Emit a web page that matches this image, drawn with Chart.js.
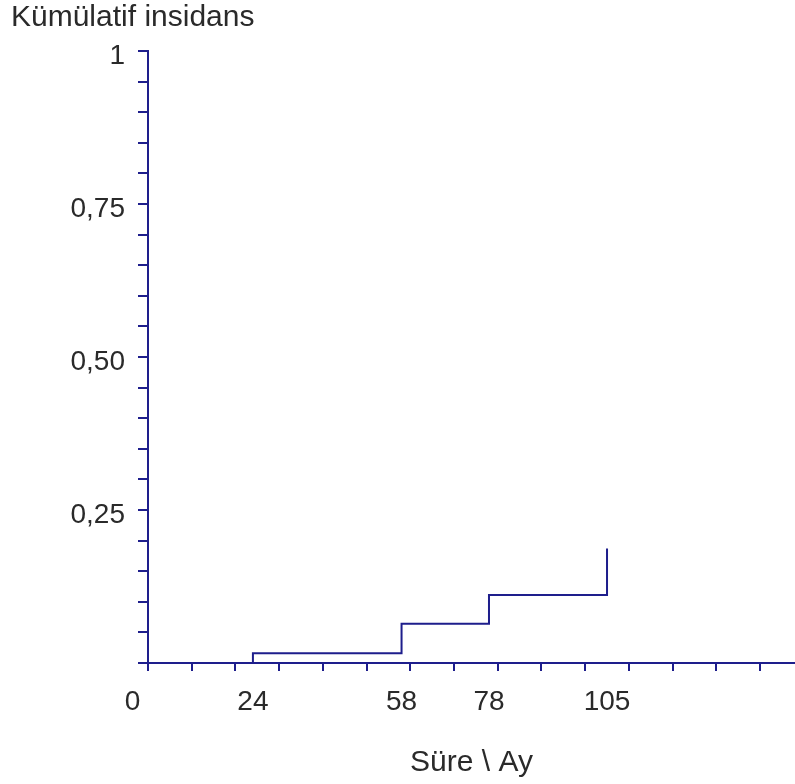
<!DOCTYPE html>
<html lang="tr">
<head>
<meta charset="utf-8">
<title>Kümülatif insidans</title>
<script src="https://cdn.jsdelivr.net/npm/chart.js@4"></script>
<style>
  html, body { margin: 0; padding: 0; background: #fff; }
  #chart { display: block; }
</style>
</head>
<body>
<canvas id="chart" width="795" height="784"></canvas>
<script>
// ===============================
// Data
// ===============================
const eventTimes = [0, 24, 58, 78, 105];
const cumIncidence = [0, 0.016, 0.064, 0.111, 0.187];

// Tick marks + labels
const xTickValues = [0, 10, 20, 30, 40, 50, 60, 70, 80, 90, 100, 110, 120, 130, 140];
const xLabelValues = [0, 24, 58, 78, 105];
const xLabels = ["0    ", "24", "58", "78", "105"];
const yTickValues = [0, 0.05, 0.1, 0.15, 0.2, 0.25, 0.3, 0.35, 0.4, 0.45, 0.5,
  0.55, 0.6, 0.65, 0.7, 0.75, 0.8, 0.85, 0.9, 0.95, 1];
const yLabelValues = [0.25, 0.5, 0.75, 1];
const yLabels = ["0,25", "0,50", "0,75", "1"];

// ===============================
// Styles
// ===============================
const NAVY = "#1e1e8c";
const TEXT = "#2a2a2a";
const FONT = "'Liberation Sans', Arial, sans-serif";

const points = eventTimes.map((t, i) => ({ x: t, y: cumIncidence[i] }));

function labelFor(values, labels, v) {
  const idx = values.findIndex((lv) => Math.abs(lv - v) < 1e-6);
  return idx === -1 ? "" : labels[idx];
}

// ===============================
// Chart
// ===============================
const ctx = document.getElementById("chart").getContext("2d");
new Chart(ctx, {
  type: "line",
  data: {
    datasets: [
      {
        data: points,
        stepped: true, // KM-style: horizontal, then jump
        borderColor: NAVY,
        borderWidth: 2,
        pointRadius: 0,
        fill: false,
      },
    ],
  },
  options: {
    responsive: false,
    animation: false,
    layout: { padding: { left: 11, right: 0, top: 0, bottom: 0 } },
    plugins: {
      legend: { display: false },
      tooltip: { enabled: false },
      title: {
        display: true,
        text: "Kümülatif insidans",
        align: "start",
        color: TEXT,
        font: { family: FONT, size: 30, weight: "normal" },
        padding: { top: 0, bottom: 15 },
      },
    },
    scales: {
      // tick marks only
      x: {
        type: "linear",
        position: "bottom",
        weight: 0,
        min: 0,
        max: 148,
        afterBuildTicks: (scale) => {
          scale.ticks = xTickValues.map((v) => ({ value: v }));
        },
        afterFit: (scale) => { scale.height = 10; },
        ticks: { display: false, autoSkip: false },
        grid: {
          drawOnChartArea: false,
          drawTicks: true,
          tickLength: 8,
          color: NAVY,
          lineWidth: 2,
        },
        border: { display: true, color: NAVY, width: 2 },
      },
      // event time labels + axis title
      xLabels: {
        type: "linear",
        position: "bottom",
        weight: 1,
        min: 0,
        max: 148,
        afterBuildTicks: (scale) => {
          scale.ticks = xLabelValues.map((v) => ({ value: v }));
        },
        afterFit: (scale) => { scale.height = 111; },
        ticks: {
          autoSkip: false,
          maxRotation: 0,
          padding: 12,
          color: TEXT,
          font: { family: FONT, size: 28 },
          callback: (v) => labelFor(xLabelValues, xLabels, v),
        },
        grid: { display: false, drawTicks: false },
        border: { display: false },
        title: {
          display: true,
          text: "Süre \\ Ay",
          color: TEXT,
          font: { family: FONT, size: 30 },
          padding: { top: 0, bottom: 3 },
        },
      },
      y: {
        type: "linear",
        position: "left",
        min: 0,
        max: 1,
        afterBuildTicks: (scale) => {
          scale.ticks = yTickValues.map((v) => ({ value: v }));
        },
        afterFit: (scale) => { scale.width = 137; },
        ticks: {
          autoSkip: false,
          padding: 13,
          labelOffset: 5,
          color: TEXT,
          font: { family: FONT, size: 28 },
          callback: (v) => labelFor(yLabelValues, yLabels, v),
        },
        grid: {
          drawOnChartArea: false,
          drawTicks: true,
          tickLength: 10,
          color: NAVY,
          lineWidth: 2,
        },
        border: { display: true, color: NAVY, width: 2 },
      },
    },
  },
});
</script>
</body>
</html>
